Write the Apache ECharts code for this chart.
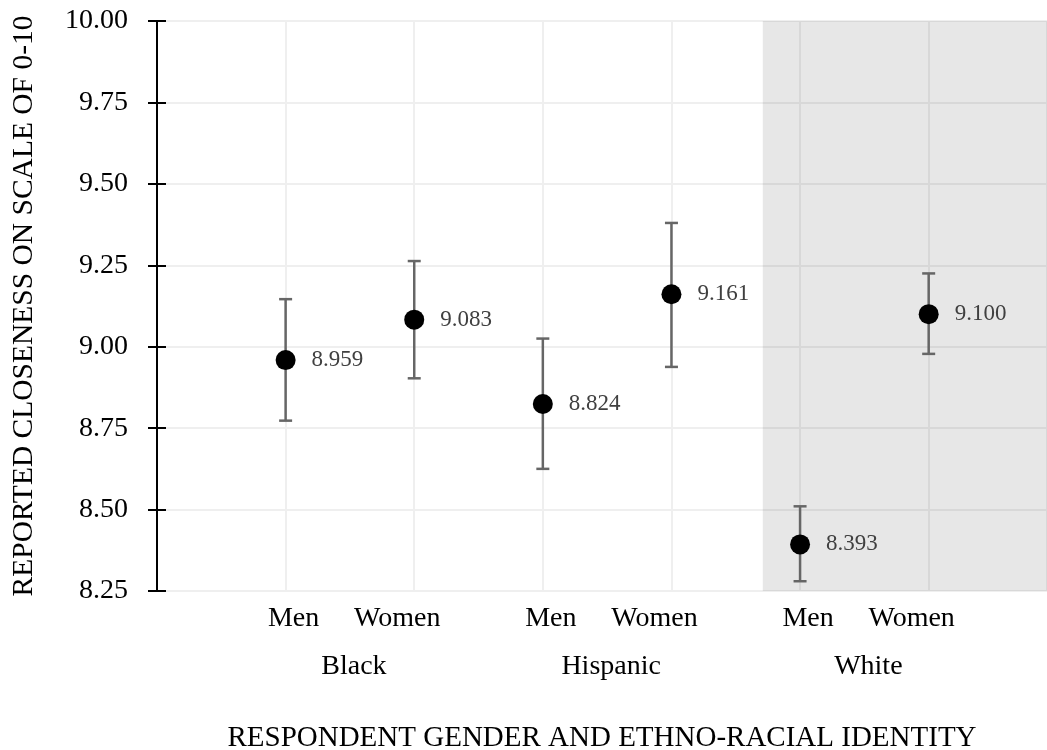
<!DOCTYPE html>
<html><head><meta charset="utf-8">
<script src="https://cdn.jsdelivr.net/npm/echarts@6/dist/echarts.min.js"></script>
<style>html,body{margin:0;padding:0;background:#fff}#c{width:1047px;height:750px}</style>
</head><body><div id="c"></div>
<script>
// ---- data ----
const groups = ['Black', 'Hispanic', 'White'];
const genders = ['Men', 'Women', 'Men', 'Women', 'Men', 'Women'];
const positions = [1, 2, 3, 4, 5, 6];
const groupPositions = [1.5, 3.5, 5.5];
const means = [8.959, 9.083, 8.824, 9.161, 8.393, 9.100];
const upper = [9.146, 9.263, 9.025, 9.380, 8.510, 9.225];
const lower = [8.773, 8.903, 8.625, 8.938, 8.280, 8.978];
const yMin = 8.25, yMax = 10.0, yStep = 0.25;
const xMin = 0, xMax = 6.92, shadeFrom = 4.71;
const yTitle = 'REPORTED CLOSENESS ON SCALE OF 0-10';
const xTitle = 'RESPONDENT GENDER AND ETHNO-RACIAL IDENTITY';

const FONT = "'Liberation Serif', 'Times New Roman', serif";
const chart = echarts.init(document.getElementById('c'), null, {renderer: 'canvas'});

const gridBox = {left: 157, right: 0, top: 21, bottom: 159, containLabel: false, outerBoundsMode: 'none'};

const option = {
  animation: false,
  backgroundColor: '#fff',
  grid: [Object.assign({}, gridBox), Object.assign({}, gridBox)],
  xAxis: [{
    type: 'value', gridIndex: 0, min: xMin, max: xMax, interval: 1,
    axisLine: {show: false}, axisTick: {show: false},
    splitLine: {show: true, lineStyle: {color: '#efefef', width: 2}},
    axisLabel: {
      customValues: positions, margin: 14,
      fontFamily: FONT, fontSize: 28, color: '#000',
      formatter: function (v) {
        const i = positions.indexOf(v);
        if (i < 0) return '';
        return genders[i] === 'Men' ? '{m|Men}' : '{w|Women}';
      },
      rich: {
        m: {fontFamily: FONT, fontSize: 28, color: '#000', padding: [0, 0, 0, 16]},
        w: {fontFamily: FONT, fontSize: 28, color: '#000', padding: [0, 34, 0, 0]}
      }
    }
  }, {
    type: 'value', gridIndex: 1, min: xMin, max: xMax, interval: 1,
    axisLine: {show: false}, axisTick: {show: false}, splitLine: {show: false},
    name: xTitle, nameLocation: 'middle', nameGap: 133,
    nameTextStyle: {fontFamily: FONT, fontSize: 29, color: '#000'},
    axisLabel: {
      customValues: groupPositions, margin: 62,
      fontFamily: FONT, fontSize: 28, color: '#000',
      formatter: function (v) {
        const i = groupPositions.indexOf(v);
        return i < 0 ? '' : '{g|' + groups[i] + '}';
      },
      rich: {g: {fontFamily: FONT, fontSize: 28, color: '#000', padding: [0, 0, 0, 8]}}
    }
  }],
  yAxis: [{
    type: 'value', gridIndex: 0, min: yMin, max: yMax, interval: yStep,
    axisLine: {show: true, lineStyle: {color: '#000', width: 2}},
    axisTick: {show: true, length: 9, lineStyle: {color: '#000', width: 2}},
    splitLine: {show: true, lineStyle: {color: '#efefef', width: 2}},
    axisLabel: {margin: 29, fontFamily: FONT, fontSize: 28, color: '#000',
      formatter: v => v.toFixed(2)},
    name: yTitle, nameLocation: 'middle', nameGap: 118,
    nameTextStyle: {fontFamily: FONT, fontSize: 29.5, color: '#000'}
  }, {
    type: 'value', gridIndex: 1, min: yMin, max: yMax, interval: yStep,
    axisLine: {show: true, lineStyle: {color: '#000', width: 2}},
    axisTick: {show: true, inside: true, length: 9, lineStyle: {color: '#000', width: 2}},
    splitLine: {show: false}, axisLabel: {show: false}
  }],
  series: [{
    type: 'line', xAxisIndex: 0, yAxisIndex: 0, z: 1,
    data: [[shadeFrom, yMin]], showSymbol: false, symbol: 'none', lineStyle: {width: 0},
    silent: true,
    markArea: {
      silent: true,
      itemStyle: {color: 'rgba(0,0,0,0.094)'},
      data: [[{xAxis: shadeFrom}, {xAxis: xMax}]]
    }
  }, {
    type: 'custom', xAxisIndex: 0, yAxisIndex: 0, z: 3,
    data: positions.map((p, i) => [p, upper[i], lower[i]]),
    encode: {x: 0, y: [1, 2]},
    renderItem: function (params, api) {
      const x = api.value(0);
      const top = api.coord([x, api.value(1)]);
      const bot = api.coord([x, api.value(2)]);
      const cap = 6.5;
      const st = {stroke: '#666666', lineWidth: 2.5};
      return {type: 'group', children: [
        {type: 'line', shape: {x1: top[0], y1: top[1], x2: bot[0], y2: bot[1]}, style: st},
        {type: 'line', shape: {x1: top[0] - cap, y1: top[1], x2: top[0] + cap, y2: top[1]}, style: st},
        {type: 'line', shape: {x1: bot[0] - cap, y1: bot[1], x2: bot[0] + cap, y2: bot[1]}, style: st}
      ]};
    }
  }, {
    type: 'scatter', xAxisIndex: 0, yAxisIndex: 0, z: 4,
    data: positions.map((p, i) => [p, means[i]]),
    symbol: 'circle', symbolSize: 20,
    itemStyle: {color: '#000', opacity: 1},
    label: {
      show: true, position: 'right', distance: 16,
      fontFamily: FONT, fontSize: 23, color: '#404040',
      formatter: p => p.value[1].toFixed(3)
    }
  }]
};
chart.setOption(option);
</script>
</body></html>
